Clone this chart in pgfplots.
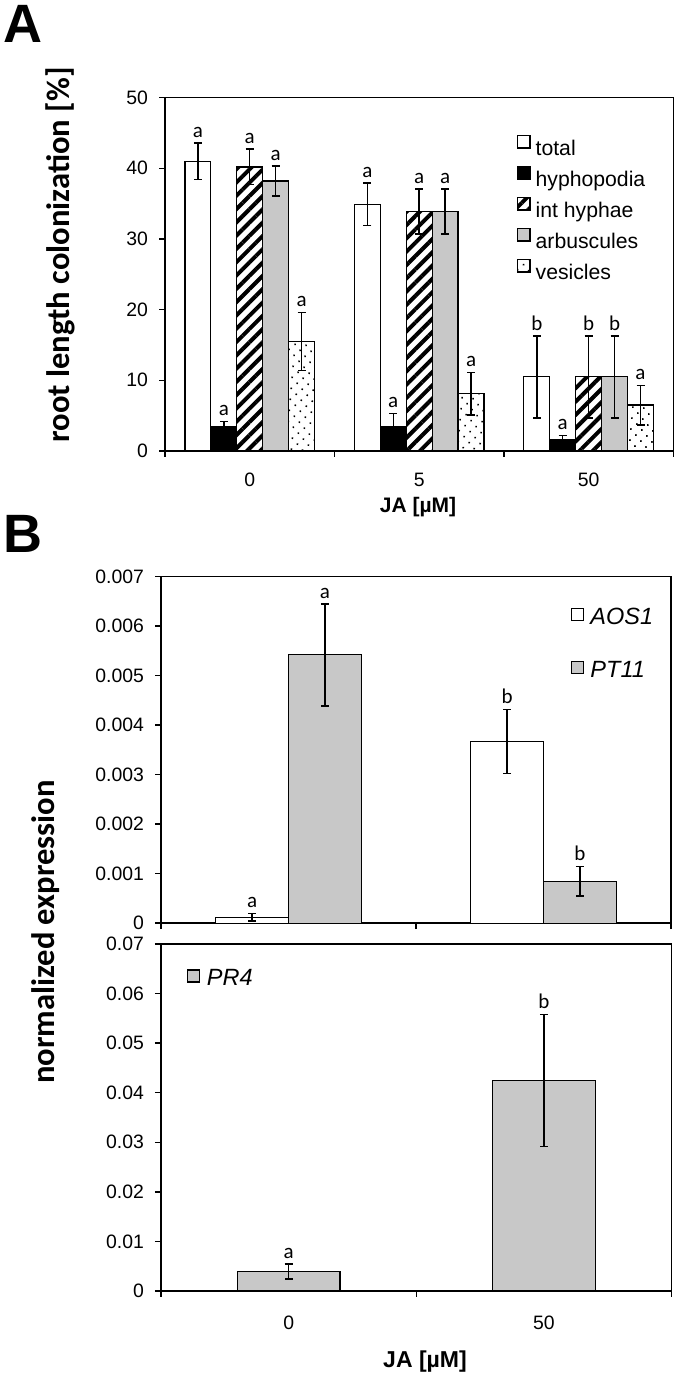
\documentclass[border=0pt]{standalone}
\usepackage{pgfplots}
\pgfplotsset{compat=1.18}
\usepackage{pgfplotstable}
\usetikzlibrary{patterns.meta}
\usepackage{fontspec}
\setmainfont{Liberation Sans}
\newfontfamily\calibri{Carlito}
\newcommand\tickfont{\fontsize{9.7}{11}\selectfont}
\newcommand\letfont{\calibri\fontsize{10.5}{12}\selectfont}
\newcommand\legAfont{\fontsize{10.6}{12}\selectfont}
\newcommand\legBfont{\fontsize{11.75}{13}\selectfont\itshape}
\definecolor{barg}{RGB}{200,200,200}

% Panel A
\pgfplotstableread{
x y e lab
-0.306 41.0 2.6 a
0.694 34.9 3.0 a
1.694 10.5 5.8 b
}\tTot
\pgfplotstableread{
x y e lab
-0.153 3.5 0.7 a
0.847 3.5 1.8 a
1.847 1.6 0.6 a
}\tHyp
\pgfplotstableread{
x y e lab
0 40.2 2.5 a
1 33.9 3.2 a
2 10.5 5.8 b
}\tInt
\pgfplotstableread{
x y e lab
0.153 38.2 2.1 a
1.153 33.9 3.2 a
2.153 10.5 5.8 b
}\tArb
\pgfplotstableread{
x y e lab
0.306 15.5 4.1 a
1.306 8.1 3.0 a
2.306 6.5 2.8 a
}\tVes
% Panel B
\pgfplotstableread{
x y e lab
-0.143 0.00012 0.00008 a
0.857 0.00367 0.00065 b
}\tAOS
\pgfplotstableread{
x y e lab
0.143 0.00542 0.00103 a
1.143 0.000845 0.0003 b
}\tPT
\pgfplotstableread{
x y e lab
0 0.0039 0.0015 a
1 0.0425 0.0133 b
}\tPR

\pgfplotsset{
 base/.style={scale only axis, anchor=south west, clip=false,
   axis line style={line width=0.7pt},
   tick style={line width=0.7pt, black},
   tick align=outside, tick pos=left, major tick length=3pt,
   /pgf/number format/assume math mode=true,
   ticklabel style={font=\tickfont},
   yticklabel style={xshift=-2pt}},
 bars/.style={ybar, bar shift=0pt, draw=black, line width=0.65pt,
   error bars/y dir=both, error bars/y explicit,
   error bars/error bar style={line width=0.75pt, black, solid},
   error bars/error mark options={rotate=90, line width=0.75pt, mark size=2pt, black, solid}},
 sqA/.style={legend image code/.code={\draw[##1, line width=0.6pt] (0pt,1.5pt) rectangle (6.2pt,7.7pt);}},
 sqB/.style={legend image code/.code={\draw[##1, line width=0.6pt] (0pt,1.2pt) rectangle (6pt,7.2pt);}},
 lets/.style={draw=none, mark=none, forget plot, nodes near coords,
   point meta=explicit symbolic,
   every node near coord/.append style={anchor=south, inner sep=0pt, yshift=2.5pt, font=\letfont, text=black}},
}

\begin{document}
\begin{tikzpicture}
\useasboundingbox (0,0) rectangle (339pt,688pt);

% ---------- Panel A ----------
\begin{axis}[base, at={(82.5pt,462.5pt)}, width=254.2pt, height=176.7pt,
  xmin=-0.5, xmax=2.5, ymin=0, ymax=50, ytick={0,10,20,30,40,50},
  xtick={-0.5,0.5,1.5,2.5}, xticklabels={},
  extra x ticks={0,1,2}, extra x tick labels={0,5,50},
  extra x tick style={major tick length=0pt, xticklabel style={yshift=-7.3pt}},
  legend style={at={(0.6925,0.8944)}, anchor=north west, draw=none, fill=none,
    inner sep=0pt, outer sep=0pt, row sep=0pt, column sep=2.5pt,
    font=\legAfont,
    nodes={inner sep=0pt, text height=10pt, text depth=5pt, font=\legAfont}},
  legend cell align=left]
\addplot[bars, sqA, bar width=0.153, fill=white] table[x=x,y=y,y error=e]{\tTot};
\addlegendentry{total}
\addplot[bars, sqA, bar width=0.153, fill=black] table[x=x,y=y,y error=e]{\tHyp};
\addlegendentry{hyphopodia}
\addplot[bars, sqA, bar width=0.153, fill=white, pattern={Lines[angle=45,distance=4.7pt,line width=2pt]}, pattern color=black] table[x=x,y=y,y error=e]{\tInt};
\addlegendentry{int hyphae}
\addplot[bars, sqA, bar width=0.153, fill=barg] table[x=x,y=y,y error=e]{\tArb};
\addlegendentry{arbuscules}
\addplot[bars, sqA, bar width=0.153, fill=white, pattern={Dots[angle=40,distance=3.9pt,radius=0.55pt]}, pattern color=black] table[x=x,y=y,y error=e]{\tVes};
\addlegendentry{vesicles}
\addplot[lets] table[x=x, y expr=\thisrow{y}+\thisrow{e}, meta=lab]{\tTot};
\addplot[lets] table[x=x, y expr=\thisrow{y}+\thisrow{e}, meta=lab]{\tHyp};
\addplot[lets] table[x=x, y expr=\thisrow{y}+\thisrow{e}, meta=lab]{\tInt};
\addplot[lets] table[x=x, y expr=\thisrow{y}+\thisrow{e}, meta=lab]{\tArb};
\addplot[lets] table[x=x, y expr=\thisrow{y}+\thisrow{e}, meta=lab]{\tVes};
\end{axis}

% ---------- Panel B top ----------
\begin{axis}[base, at={(80.5pt,226.4pt)}, width=255pt, height=173.3pt,
  xmin=-0.5, xmax=1.5, ymin=0, ymax=0.007,
  ytick={0,0.001,0.002,0.003,0.004,0.005,0.006,0.007},
  scaled y ticks=false,
  yticklabel={\pgfmathprintnumber[fixed,precision=3]{\tick}},
  xtick={-0.5,0.5,1.5}, xticklabels={},
  legend style={at={(0.8033,0.9423)}, anchor=north west, draw=none, fill=none,
    inner sep=0pt, outer sep=0pt, row sep=0pt, column sep=3.3pt,
    font=\legBfont,
    nodes={inner sep=0pt, text height=14pt, text depth=12.5pt, font=\legBfont}},
  legend cell align=left]
\addplot[bars, sqB, bar width=0.285, fill=white] table[x=x,y=y,y error=e]{\tAOS};
\addlegendentry{AOS1}
\addplot[bars, sqB, bar width=0.285, fill=barg] table[x=x,y=y,y error=e]{\tPT};
\addlegendentry{PT11}
\addplot[lets] table[x=x, y expr=\thisrow{y}+\thisrow{e}, meta=lab]{\tAOS};
\addplot[lets] table[x=x, y expr=\thisrow{y}+\thisrow{e}, meta=lab]{\tPT};
\end{axis}

% ---------- Panel B bottom ----------
\begin{axis}[base, at={(80.5pt,42.5pt)}, width=255.3pt, height=173.5pt,
  xmin=-0.5, xmax=1.5, ymin=0, ymax=0.07,
  ytick={0,0.01,0.02,0.03,0.04,0.05,0.06,0.07},
  scaled y ticks=false,
  yticklabel={\pgfmathprintnumber[fixed,precision=2]{\tick}},
  xtick={-0.5,0.5,1.5}, xticklabels={},
  extra x ticks={0,1}, extra x tick labels={0,50},
  extra x tick style={major tick length=0pt, xticklabel style={yshift=-8.8pt}},
  legend style={at={(0.0513,0.9597)}, anchor=north west, draw=none, fill=none,
    inner sep=0pt, outer sep=0pt, row sep=0pt, column sep=3.3pt,
    font=\legBfont,
    nodes={inner sep=0pt, text height=14pt, text depth=12.5pt, font=\legBfont}},
  legend cell align=left]
\addplot[bars, sqB, bar width=0.402, fill=barg] table[x=x,y=y,y error=e]{\tPR};
\addlegendentry{PR4}
\addplot[lets] table[x=x, y expr=\thisrow{y}+\thisrow{e}, meta=lab]{\tPR};
\end{axis}

% ---------- labels ----------
\node[anchor=north west, inner sep=0pt, font=\fontsize{27}{29}\selectfont\bfseries] at (1.5pt,685.5pt) {A};
\node[anchor=north west, inner sep=0pt, font=\fontsize{27}{29}\selectfont\bfseries] at (1.5pt,430.5pt) {B};
\node[rotate=90, inner sep=0pt, font=\calibri\bfseries\fontsize{16.3}{18}\selectfont] at (30pt,560.5pt) {root length colonization [\%]};
\node[rotate=90, inner sep=0pt, font=\calibri\bfseries\fontsize{16.3}{18}\selectfont] at (23pt,222pt) {normalized expression};
\node[inner sep=0pt, font=\fontsize{10.5}{12}\selectfont\bfseries] at (209pt,434.6pt) {JA [µM]};
\node[inner sep=0pt, font=\fontsize{11.5}{13}\selectfont\bfseries] at (212.5pt,7.2pt) {JA [µM]};
\end{tikzpicture}
\end{document}
